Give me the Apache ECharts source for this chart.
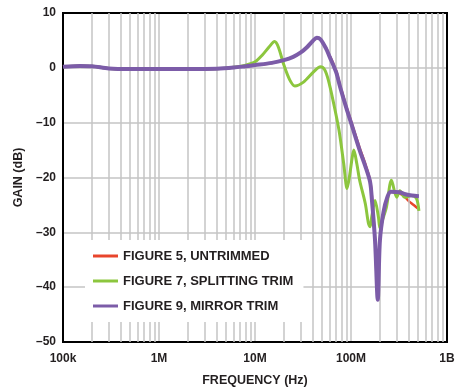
<!DOCTYPE html>
<html>
<head>
<meta charset="utf-8">
<script src="https://cdn.jsdelivr.net/npm/echarts@6/dist/echarts.min.js"></script>
<style>
html,body{margin:0;padding:0;background:#fff;}
#chart{width:459px;height:392px;}
</style>
</head>
<body>
<div id="chart"></div>
<script>
// Tick labels
var xTickLabels = ['100k', '1M', '10M', '100M', '1B'];
var yTicks = [10, 0, -10, -20, -30, -40, -50];
var seriesNames = ['FIGURE 5, UNTRIMMED', 'FIGURE 7, SPLITTING TRIM', 'FIGURE 9, MIRROR TRIM'];

// Frequency (Hz) and gain (dB) for each trace
var untrimmedFreq = [1e5, 1.5e5, 2e5, 3e5, 5e5, 1e6, 2e6, 4e6, 6e6, 8e6, 1e7, 1.5e7, 2e7, 2.5e7, 3e7, 3.5e7, 4e7, 4.4e7, 4.8e7, 5.5e7, 6e7, 7e7, 7.7e7, 9e7, 1e8, 1.23e8, 1.4e8, 1.58e8, 1.66e8, 1.78e8, 1.9e8, 2e8, 2.18e8, 2.4e8, 2.6e8, 3e8, 3.5e8, 4e8, 4.5e8, 5.1e8];
var untrimmedGain = [0.2, 0.35, 0.3, -0.1, -0.2, -0.2, -0.2, -0.15, 0.05, 0.3, 0.5, 0.9, 1.4, 2.0, 2.8, 3.8, 4.9, 5.5, 5.2, 3.6, 2.2, -0.5, -3.2, -7.2, -9.7, -14.6, -17.4, -20.5, -24, -31.5, -42.0, -31.5, -26.3, -23.5, -22.6, -22.7, -23.3, -24.3, -25.0, -25.8];

var splittingFreq = [1e5, 1.5e5, 2e5, 3e5, 5e5, 1e6, 2e6, 4e6, 6e6, 8e6, 1e7, 1.2e7, 1.4e7, 1.6e7, 1.75e7, 2e7, 2.3e7, 2.6e7, 3.2e7, 4.1e7, 4.8e7, 5.3e7, 5.8e7, 6.6e7, 7.5e7, 8.4e7, 9.1e7, 9.7e7, 1.03e8, 1.07e8, 1.15e8, 1.23e8, 1.41e8, 1.52e8, 1.58e8, 1.65e8, 1.78e8, 1.93e8, 2e8, 2.15e8, 2.34e8, 2.64e8, 2.99e8, 3.23e8, 3.63e8, 4.27e8, 4.8e8, 5.1e8];
var splittingGain = [0.2, 0.35, 0.3, -0.1, -0.2, -0.2, -0.2, -0.15, 0.1, 0.5, 1.1, 2.4, 3.8, 4.8, 3.8, 0.5, -2.2, -3.3, -2.6, -0.7, 0.2, -0.3, -2.2, -6.5, -11.4, -17.5, -22.0, -19.5, -16.3, -15.0, -17.5, -20.5, -24.8, -28.4, -29.0, -27.0, -24.2, -27.2, -29.2, -27.5, -25.4, -20.5, -23.6, -22.4, -23.6, -23.3, -23.8, -26.1];

var mirrorFreq = [1e5, 1.5e5, 2e5, 3e5, 5e5, 1e6, 2e6, 4e6, 6e6, 8e6, 1e7, 1.5e7, 2e7, 2.5e7, 3e7, 3.5e7, 4e7, 4.4e7, 4.8e7, 5.5e7, 6e7, 7e7, 7.7e7, 9e7, 1e8, 1.23e8, 1.4e8, 1.58e8, 1.65e8, 1.78e8, 1.9e8, 2e8, 2.18e8, 2.4e8, 2.6e8, 3.2e8, 3.6e8, 4.3e8, 5.1e8];
var mirrorGain = [0.2, 0.35, 0.3, -0.1, -0.2, -0.2, -0.2, -0.15, 0.05, 0.3, 0.5, 0.9, 1.4, 2.0, 2.8, 3.8, 4.9, 5.5, 5.2, 3.5, 2.0, -0.8, -3.5, -7.5, -10.0, -15.0, -17.8, -20.8, -24.0, -31.5, -42.3, -31.5, -26.3, -23.5, -22.6, -22.7, -23.0, -23.3, -23.4];

// minor log grid positions
var gridMultipliers = [2, 3, 4, 5, 6, 7, 8, 9];
var gridDecades = [1e5, 1e6, 1e7, 1e8];

function zip(f, g) { return f.map(function (v, i) { return [v, g[i]]; }); }

var minorLines = [];
gridDecades.forEach(function (d) {
  gridMultipliers.forEach(function (m) { minorLines.push({ xAxis: d * m }); });
});

var font = '"Liberation Sans", Arial, sans-serif';
var chart = echarts.init(document.getElementById('chart'), null, { renderer: 'canvas' });
chart.setOption({
  animation: false,
  backgroundColor: '#fff',
  grid: { left: 63, right: 12, top: 13, bottom: 50, show: true, borderColor: '#000', borderWidth: 2, backgroundColor: 'transparent', z: 3 },
  legend: {
    data: seriesNames,
    orient: 'vertical',
    left: 85,
    top: 240,
    padding: [9, 10, 9, 8],
    backgroundColor: '#fff',
    itemGap: 11,
    itemWidth: 25,
    itemHeight: 3,
    icon: 'rect',
    textStyle: { fontFamily: font, fontWeight: 'bold', fontSize: 13, color: '#231f20', lineHeight: 14, padding: [0, 0, 0, 0] },
    z: 10
  },
  xAxis: {
    type: 'log',
    logBase: 10,
    min: 1e5,
    max: 1e9,
    name: 'FREQUENCY (Hz)',
    nameLocation: 'middle',
    nameGap: 32,
    nameTextStyle: { fontFamily: font, fontWeight: 'bold', fontSize: 12.5, color: '#231f20' },
    axisLine: { show: false },
    axisTick: { show: false },
    axisLabel: {
      fontFamily: font, fontWeight: 'bold', fontSize: 12, color: '#231f20', margin: 11,
      formatter: function (v) { return xTickLabels[Math.round(Math.log10(v)) - 5]; }
    },
    splitLine: { show: true, lineStyle: { color: '#c4c4c4', width: 1.5 } }
  },
  yAxis: {
    type: 'value',
    min: yTicks[yTicks.length - 1],
    max: yTicks[0],
    interval: 10,
    name: 'GAIN (dB)',
    nameLocation: 'middle',
    nameRotate: 90,
    nameGap: 33,
    nameTextStyle: { fontFamily: font, fontWeight: 'bold', fontSize: 12.5, color: '#231f20' },
    axisLine: { show: false },
    axisTick: { show: false },
    axisLabel: {
      fontFamily: font, fontWeight: 'bold', fontSize: 12, color: '#231f20', margin: 7,
      formatter: function (v) { return String(v).replace('-', '\u2013'); }
    },
    splitLine: { show: true, lineStyle: { color: '#c4c4c4', width: 1.5 } }
  },
  series: [
    {
      type: 'line', name: '_grid', data: [], z: 1, silent: true,
      markLine: {
        silent: true, symbol: 'none', label: { show: false },
        lineStyle: { color: '#c4c4c4', width: 1.5, type: 'solid' },
        data: minorLines, animation: false
      }
    },
    {
      type: 'line', name: seriesNames[0], data: zip(untrimmedFreq, untrimmedGain),
      showSymbol: false, smooth: 0.3, z: 4,
      lineStyle: { color: '#e8452c', width: 2.5 }, itemStyle: { color: '#e8452c' }
    },
    {
      type: 'line', name: seriesNames[1], data: zip(splittingFreq, splittingGain),
      showSymbol: false, smooth: 0.3, z: 5,
      lineStyle: { color: '#8cc63e', width: 3 }, itemStyle: { color: '#8cc63e' }
    },
    {
      type: 'line', name: seriesNames[2], data: zip(mirrorFreq, mirrorGain),
      showSymbol: false, smooth: 0.3, z: 6,
      lineStyle: { color: '#7c5ca8', width: 4 }, itemStyle: { color: '#7c5ca8' }
    }
  ]
});
</script>
</body>
</html>
